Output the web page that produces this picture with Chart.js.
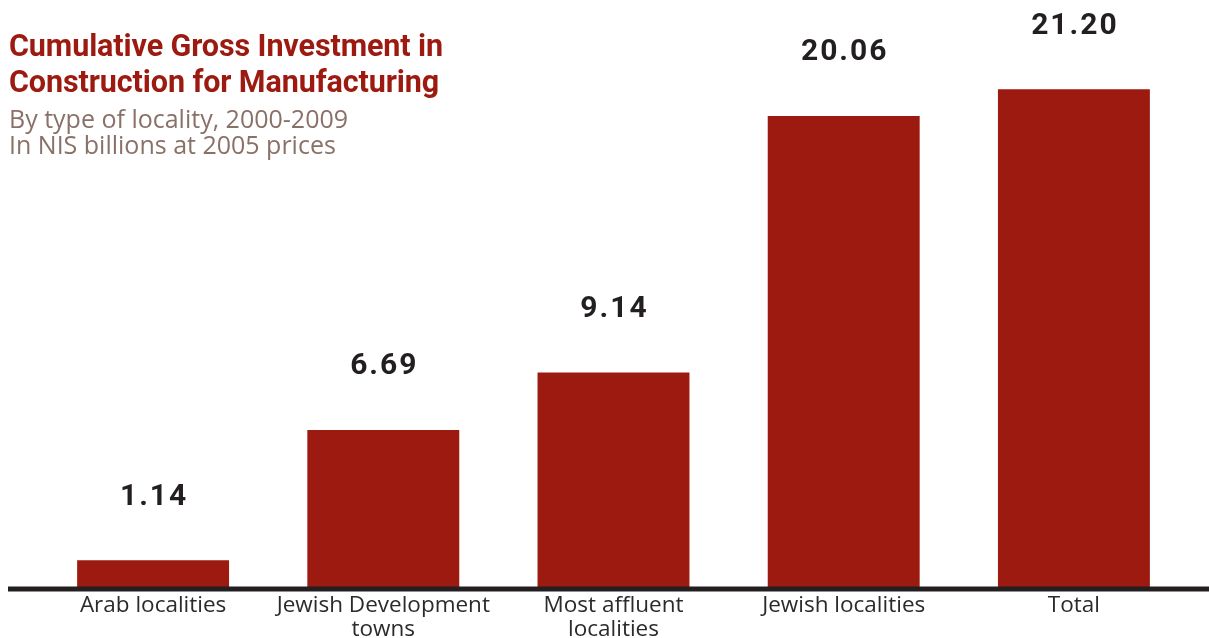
<!DOCTYPE html>
<html>
<head>
<meta charset="utf-8">
<script src="https://cdn.jsdelivr.net/npm/chart.js@4.4.1/dist/chart.umd.min.js"></script>
<style>
  html, body { margin: 0; padding: 0; background: #fff; overflow: hidden; }
  #wrap { position: relative; width: 1209px; height: 649px; overflow: hidden; }
  #chart { position: absolute; left: 0; top: 0; }
  .title {
    position: absolute; left: 9px; top: 28px;
    font-family: Roboto, "Noto Sans", sans-serif; font-weight: 700;
    font-size: 30.5px; line-height: 36px; color: #9c1a0f; letter-spacing: -0.1px;
    white-space: nowrap;
  }
  .sub {
    position: absolute; left: 9px; top: 105px;
    font-family: "Open Sans", "Noto Sans", sans-serif; font-weight: 400;
    font-size: 25px; line-height: 26px; color: #8a7168;
    white-space: nowrap;
  }
</style>
</head>
<body>
<div id="wrap">
  <canvas id="chart" width="1209" height="649"></canvas>
  <div class="title">Cumulative Gross Investment in<br>Construction for Manufacturing</div>
  <div class="sub">By type of locality, 2000-2009<br>In NIS billions at 2005 prices</div>
</div>
<script>
// Categories (multi-line labels) and investment values, NIS billions
const categories = [
  ['Arab localities'],
  ['Jewish Development', 'towns'],
  ['Most affluent', 'localities'],
  ['Jewish localities'],
  ['Total']
];
const investment = [1.14, 6.69, 9.14, 20.06, 21.20];

const barColor = '#9c1a0f';

// Thick dark baseline running across the full width under the bars
const baselinePlugin = {
  id: 'baseline',
  afterDatasetsDraw(chart) {
    const { ctx, chartArea } = chart;
    ctx.save();
    ctx.strokeStyle = '#231f20';
    ctx.lineWidth = 5;
    ctx.beginPath();
    ctx.moveTo(8, chartArea.bottom + 2);
    ctx.lineTo(chart.width, chartArea.bottom + 2);
    ctx.stroke();
    ctx.restore();
  }
};

// Value labels floating above each bar
const valueLabels = {
  id: 'valueLabels',
  afterDatasetsDraw(chart) {
    const { ctx } = chart;
    const meta = chart.getDatasetMeta(0);
    ctx.save();
    ctx.font = 'bold 30px Roboto, "DejaVu Sans", sans-serif';
    ctx.letterSpacing = '2px';
    ctx.fillStyle = '#231f20';
    ctx.textAlign = 'center';
    ctx.textBaseline = 'middle';
    meta.data.forEach((bar, i) => {
      ctx.fillText(investment[i].toFixed(2), bar.x + 1, bar.y - 63);
    });
    ctx.restore();
  }
};

new Chart(document.getElementById('chart'), {
  type: 'bar',
  data: {
    labels: categories,
    datasets: [{
      data: investment,
      backgroundColor: barColor,
      borderWidth: 0,
      barPercentage: 0.66,
      categoryPercentage: 1.0
    }]
  },
  options: {
    responsive: false,
    animation: false,
    events: [],
    layout: { padding: { left: 38, right: 20, top: 0, bottom: 0 } },
    plugins: { legend: { display: false }, tooltip: { enabled: false } },
    scales: {
      x: {
        grid: { display: false, drawTicks: false },
        border: { display: false },
        ticks: {
          color: '#2b2b2b',
          padding: 7,
          maxRotation: 0,
          autoSkip: false,
          font: { family: '"Open Sans", "Noto Sans", sans-serif', size: 22.5, lineHeight: '24px' }
        }
      },
      y: {
        display: false,
        min: 0,
        max: 25
      }
    }
  },
  plugins: [baselinePlugin, valueLabels]
});
</script>
</body>
</html>
